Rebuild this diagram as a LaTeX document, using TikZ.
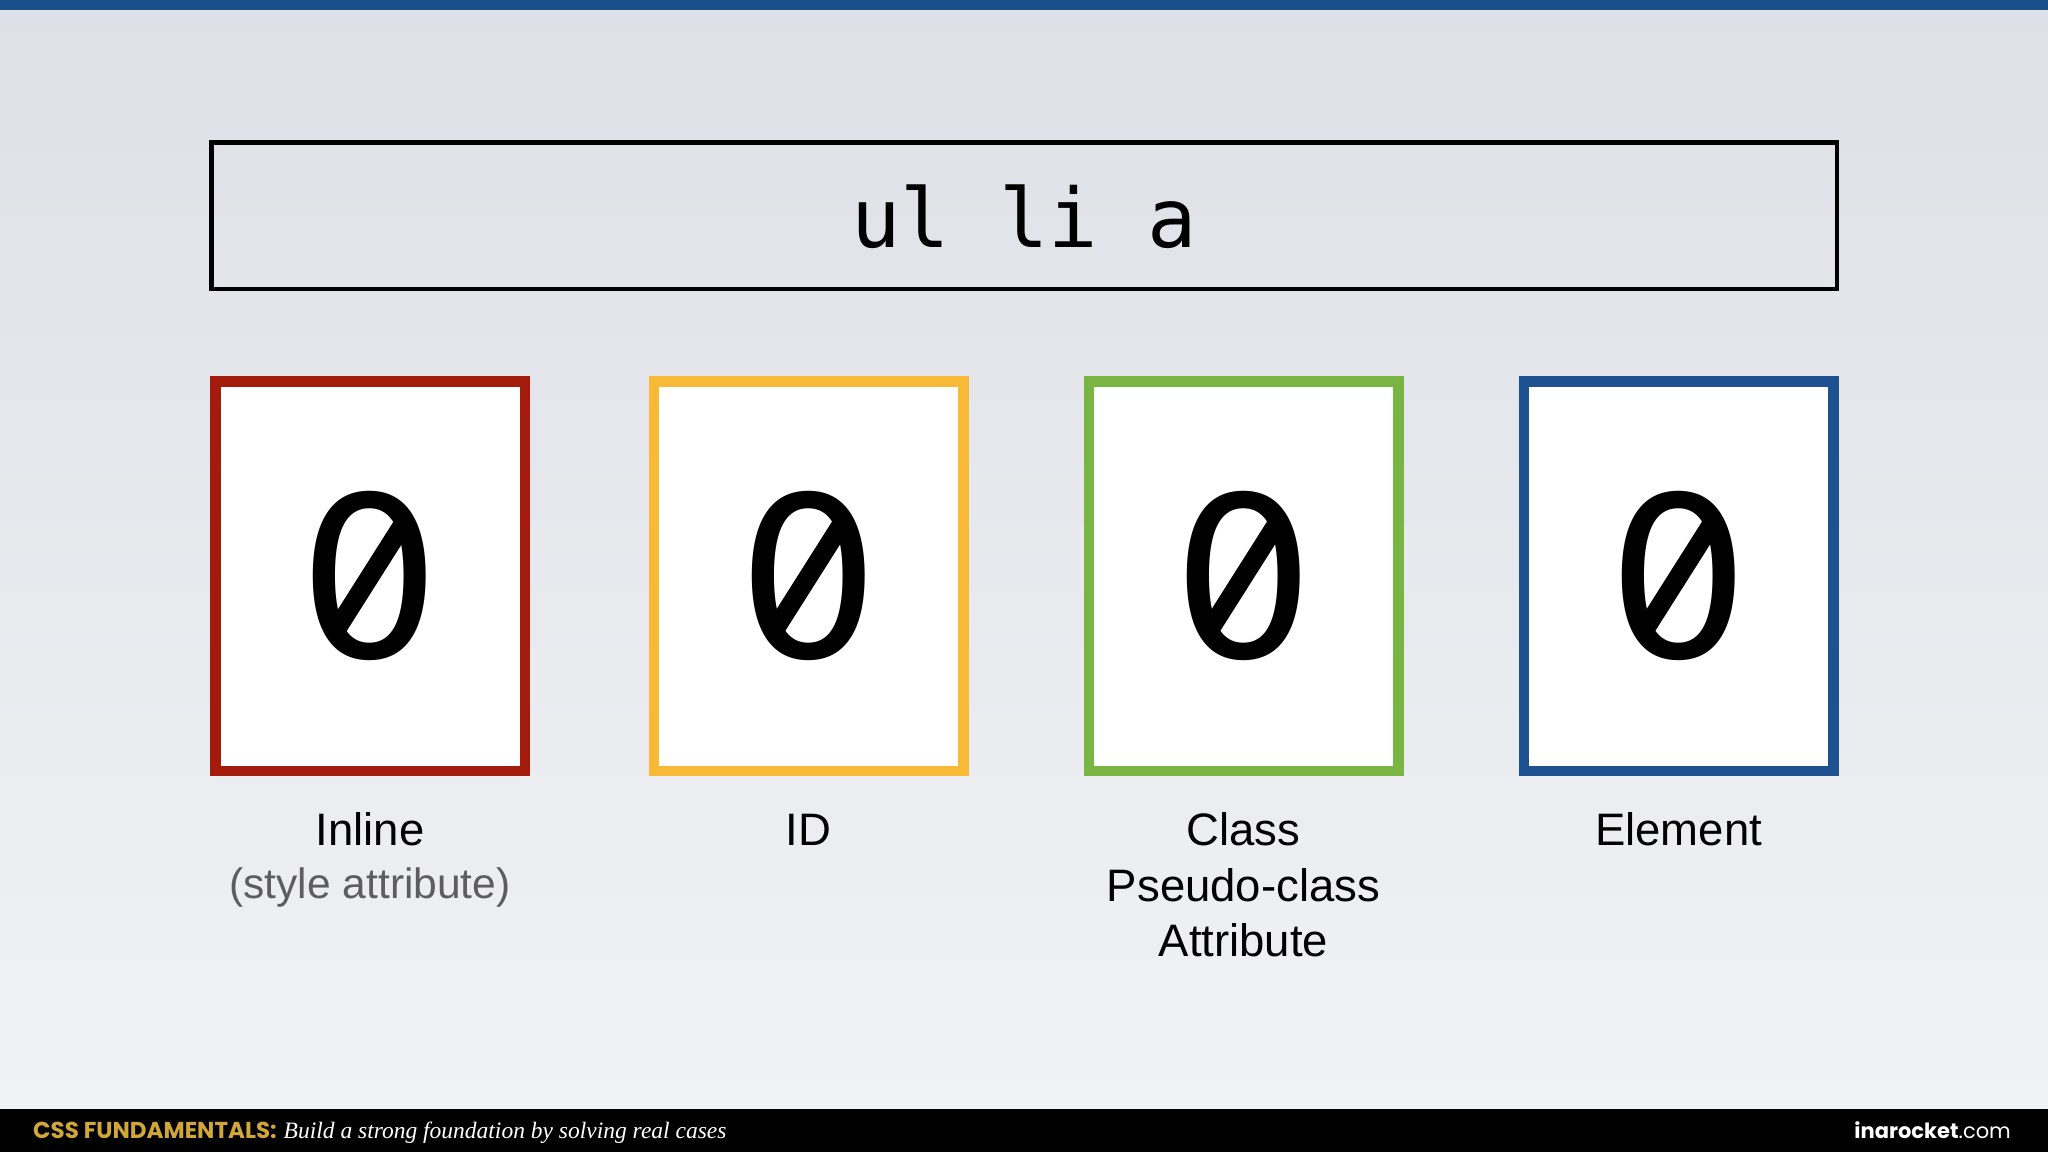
\documentclass[tikz,border=0pt]{standalone}
\usepackage{fontspec}
\setmainfont{Liberation Sans}
\newfontfamily\monofont{DejaVu Sans Mono}
\newfontfamily\digitfont{DejaVu Sans}
\newfontfamily\popfont{Poppins}
\newfontfamily\serfont{Liberation Serif}
\definecolor{bgtop}{HTML}{DDE0E6}
\definecolor{bgbot}{HTML}{F1F2F5}
\definecolor{topblue}{HTML}{184F8B}
\definecolor{redc}{HTML}{A31B0C}
\definecolor{yelc}{HTML}{F8B936}
\definecolor{grnc}{HTML}{79B542}
\definecolor{bluc}{HTML}{1E5190}
\definecolor{goldc}{HTML}{D2A73A}
\definecolor{grayc}{HTML}{5E5E60}
\tikzset{
  zbox/.style={draw, line width=10.5pt, fill=white, minimum width=309.5pt, minimum height=389.5pt, inner sep=0pt},
  zero/.style={anchor=base, inner sep=0pt, font=\digitfont\fontsize{224}{230}\selectfont},
  lab/.style={anchor=base, inner sep=0pt, font=\fontsize{45.5}{52}\selectfont},
  slashline/.style={line width=19pt},
}
\newcommand{\slashzero}[1]{%
  \begin{scope}[shift={(#1.center)}]
    \clip (0,0) ellipse [x radius=44, y radius=74];
    \draw[slashline] (-38,61) -- (38,-59);
  \end{scope}}
\begin{document}
\begin{tikzpicture}[x=1pt,y=-1pt]
\useasboundingbox (0,0) rectangle (2048,1152);
\shade[top color=bgtop, bottom color=bgbot] (0,0) rectangle (2048,1109);
\fill[topblue] (0,0) rectangle (2048,10);
\fill[black] (0,1109) rectangle (2048,1152);
% title
\node[draw, line width=4.5pt, minimum width=1625.5pt, minimum height=146.5pt, inner sep=0pt] (title) at (1024,215.5) {};
\node[anchor=base, inner sep=0pt, font=\monofont\fontsize{82}{90}\selectfont] (titletext) at (1024,247) {ul li a};
% boxes
\node[zbox, draw=redc] (inline) at (370,576) {};
\node[zbox, draw=yelc] (id) at (808.5,576) {};
\node[zbox, draw=grnc] (class) at (1243.5,576) {};
\node[zbox, draw=bluc] (element) at (1678.5,576) {};
\node[zero] (z1) at (370,657) {0};
\node[zero] (z2) at (808.5,657) {0};
\node[zero] (z3) at (1243.5,657) {0};
\node[zero] (z4) at (1678.5,657) {0};
\slashzero{z1}
\slashzero{z2}
\slashzero{z3}
\slashzero{z4}
% labels
\node[lab] (l1) at (370,845) {Inline};
\node[lab, text=grayc, font=\fontsize{42.5}{50}\selectfont] (l1b) at (370,898) {(style attribute)};
\node[lab] (l2) at (808.5,845) {ID};
\node[lab] (l3) at (1243.5,845) {Class};
\node[lab] (l3b) at (1243.5,901) {Pseudo-class};
\node[lab] (l3c) at (1243.5,956) {Attribute};
\node[lab] (l4) at (1678.5,845) {Element};
% footer
\node[anchor=base west, inner sep=0pt] (foot) at (33,1138) {{\popfont\bfseries\fontsize{23}{26}\selectfont\color{goldc}CSS FUNDAMENTALS:}\hspace{7pt}{\serfont\itshape\fontsize{23.5}{26}\selectfont\color{white}Build a strong foundation by solving real cases}};
\node[anchor=base east, inner sep=0pt, text=white] (brand) at (2011,1138) {{\popfont\bfseries\fontsize{21}{24}\selectfont inarocket}{\popfont\fontsize{21}{24}\selectfont .com}};
\end{tikzpicture}
\end{document}
